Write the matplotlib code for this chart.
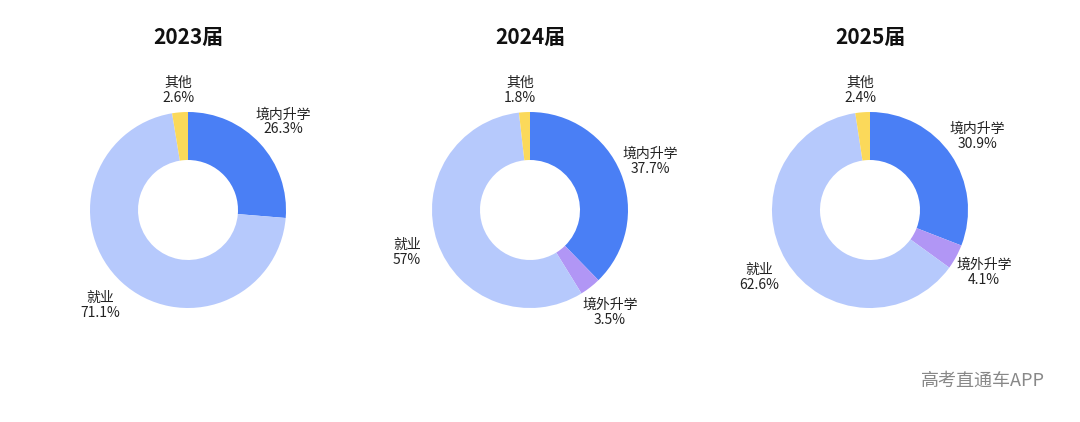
import matplotlib
matplotlib.use("Agg")
import matplotlib.pyplot as plt
import numpy as np

plt.rcParams['font.family'] = ['Noto Sans CJK SC', 'DejaVu Sans']

years = ["2023届", "2024届", "2025届"]
categories = ["境内升学", "境外升学", "就业", "其他"]
values = [
    [26.3, 0.0, 71.1, 2.6],
    [37.7, 3.5, 57.0, 1.8],
    [30.9, 4.1, 62.6, 2.4],
]
labels_pct = [
    ["26.3%", None, "71.1%", "2.6%"],
    ["37.7%", "3.5%", "57%", "1.8%"],
    ["30.9%", "4.1%", "62.6%", "2.4%"],
]
colors = ["#4a7ff5", "#b196f5", "#b6c9fc", "#fbd95a"]

W, H = 1080, 422
fig = plt.figure(figsize=(W/100, H/100), dpi=100)
centers = [188, 530, 870]
cy = 210
size = 300
for i, cx in enumerate(centers):
    ax = fig.add_axes([(cx - size/2)/W, (H - cy - size/2)/H, size/W, size/H])
    vals = values[i]
    ax.pie(vals, colors=colors, startangle=90, counterclock=False, radius=0.98,
           wedgeprops=dict(width=0.48, edgecolor='none'))
    ax.set_xlim(-1.5, 1.5); ax.set_ylim(-1.5, 1.5); ax.set_aspect('equal'); ax.axis('off')
    total = sum(vals)
    start = 90.0
    for j, v in enumerate(vals):
        ang = v / total * 360
        if v > 0:
            mid = np.deg2rad(start - ang/2)
            r = 1.3
            x, y = r*np.cos(mid), r*np.sin(mid)
            if j == 3:
                x, y = -0.1, 1.2
            ax.text(x, y, f"{categories[j]}\n{labels_pct[i][j]}", ha='center', va='center',
                    fontsize=10, color='#222222', linespacing=1.1)
        start -= ang
    fig.text(cx/W, 1 - 38/H, years[i], ha='center', va='center', fontsize=15, fontweight='bold', color='#111111')

fig.text(1045/W, 1 - 381/H, "高考直通车APP", ha='right', va='center', fontsize=13, color='#888888')
fig.savefig("out.png", dpi=100, facecolor='white')
